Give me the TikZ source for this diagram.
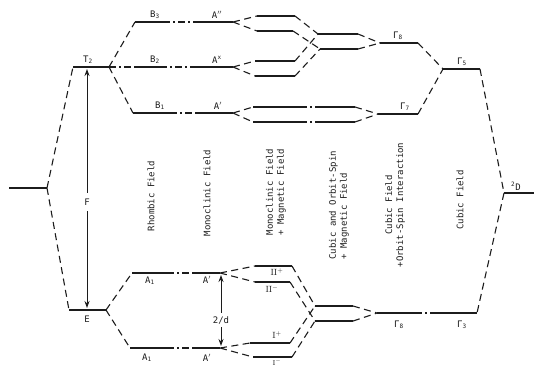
\documentclass[tikz,border=0pt]{standalone}
\usepackage{fontspec}
\usepackage{tikz}
\usetikzlibrary{arrows.meta}
\newfontfamily\lblfont{DejaVu Sans Mono}
\definecolor{ink}{HTML}{1C1C1C}
\tikzset{fig/.style={line join=round,>={Stealth[length=7pt,width=5pt]}},
  lvl/.style={ink,line width=1.4pt},
  conn/.style={ink,line width=1.1pt,dash pattern=on 7pt off 4.5pt},
  gapline/.style={ink,line width=1.2pt,dash pattern=on 7pt off 3pt on 2pt off 3pt},
  tag/.style={ink,inner sep=1pt,font=\lblfont\fontsize{9}{10}\selectfont},
  col/.style={ink,rotate=90,align=center,font=\lblfont\fontsize{9}{11}\selectfont}}

\begin{document}
\begin{tikzpicture}[fig,x=1pt,y=-1pt]
  \useasboundingbox(0,0)rectangle(534,366);\clip(0,0)rectangle(534,366);
  \coordinate(Dl)at(9,188);\coordinate(Dr)at(47,188);
  \coordinate(T2l)at(73,67);\coordinate(T2r)at(109,67);\coordinate(El)at(69,310);\coordinate(Er)at(106,310);
  \coordinate(B3l)at(135,22);\coordinate(B3r)at(163,22);\coordinate(A2l)at(196,22);\coordinate(A2r)at(233,22);
  \coordinate(B2l)at(135,67);\coordinate(B2r)at(160,67);\coordinate(Axl)at(196,67);\coordinate(Axr)at(233,67);
  \coordinate(B1l)at(133,113);\coordinate(B1r)at(170,113);\coordinate(A1l)at(196,113);\coordinate(A1r)at(233,113);
  \coordinate(P1l)at(257,16);\coordinate(P1r)at(295,16);\coordinate(P2l)at(257,31);\coordinate(P2r)at(293,31);
  \coordinate(P3l)at(255,61);\coordinate(P3r)at(295,61);\coordinate(P4l)at(255,76);\coordinate(P4r)at(295,76);
  \coordinate(Q1l)at(318,34);\coordinate(Q1r)at(358,34);\coordinate(Q2l)at(320,49);\coordinate(Q2r)at(358,49);
  \coordinate(R1l)at(253,107);\coordinate(R1m)at(300,107);\coordinate(R1n)at(318,107);\coordinate(R1r)at(355,107);
  \coordinate(R2l)at(253,122);\coordinate(R2m)at(300,122);\coordinate(R2n)at(318,122);\coordinate(R2r)at(355,122);
  \coordinate(G8l)at(380,43);\coordinate(G8r)at(418,43);\coordinate(G7l)at(378,114);\coordinate(G7r)at(418,114);
  \coordinate(G5l)at(443,69);\coordinate(G5r)at(480,69);\coordinate(DDl)at(504,193);\coordinate(DDr)at(534,193);
  \coordinate(G3l)at(437,313);\coordinate(G3r)at(477,313);\coordinate(H8l)at(377,313);\coordinate(H8r)at(415,313);
  \coordinate(U1l)at(132,273);\coordinate(U1r)at(167,273);\coordinate(Upl)at(193,273);\coordinate(Upr)at(220,273);
  \coordinate(L1l)at(130,348);\coordinate(L1r)at(167,348);\coordinate(Lpl)at(193,348);\coordinate(Lpr)at(220,348);
  \coordinate(V1l)at(255,266);\coordinate(V1r)at(292,266);\coordinate(V2l)at(255,282);\coordinate(V2r)at(290,282);
  \coordinate(W1l)at(250,343);\coordinate(W1r)at(290,343);\coordinate(W2l)at(253,357);\coordinate(W2r)at(292,357);
  \coordinate(X1l)at(315,306);\coordinate(X1r)at(353,306);\coordinate(X2l)at(315,321);\coordinate(X2r)at(353,321);
  \draw[lvl](Dl)--(Dr)(T2l)--(T2r)(El)--(Er)(B3l)--(B3r)(A2l)--(A2r)(B2l)--(B2r)(Axl)--(Axr)(B1l)--(B1r)(A1l)--(A1r);
  \draw[lvl](P1l)--(P1r)(P2l)--(P2r)(P3l)--(P3r)(P4l)--(P4r)(Q1l)--(Q1r)(Q2l)--(Q2r);
  \draw[lvl](R1l)--(R1m)(R1n)--(R1r)(R2l)--(R2m)(R2n)--(R2r)(G8l)--(G8r)(G7l)--(G7r)(G5l)--(G5r)(DDl)--(DDr);
  \draw[lvl](G3l)--(G3r)(H8l)--(H8r)(U1l)--(U1r)(Upl)--(Upr)(L1l)--(L1r)(Lpl)--(Lpr);
  \draw[lvl](V1l)--(V1r)(V2l)--(V2r)(W1l)--(W1r)(W2l)--(W2r)(X1l)--(X1r)(X2l)--(X2r);
  \draw[gapline](T2r)--(B2l)(B3r)--(A2l)(B2r)--(Axl)(B1r)--(A1l)(R1m)--(R1n)(R2m)--(R2n)(U1r)--(Upl)(L1r)--(Lpl)(H8r)--(G3l);
  \draw[conn](Dr)--(T2l)(Dr)--(El)(T2r)--(B3l)(T2r)--(B1l)(Er)--(U1l)(Er)--(L1l);
  \draw[conn](A2r)--(P1l)(A2r)--(P2l)(Axr)--(P3l)(Axr)--(P4l)(A1r)--(R1l)(A1r)--(R2l);
  \draw[conn](P1r)--(Q1l)(P2r)--(Q2l)(P3r)--(Q1l)(P4r)--(Q2l)(Q1r)--(G8l)(Q2r)--(G8l)(R1r)--(G7l)(R2r)--(G7l);
  \draw[conn](G8r)--(G5l)(G7r)--(G5l)(G5r)--(DDl)(DDl)--(G3r);
  \draw[conn](Upr)--(V1l)(Upr)--(V2l)(Lpr)--(W1l)(Lpr)--(W2l)(V1r)--(X1l)(V2r)--(X2l)(W1r)--(X1l)(W2r)--(X2l);
  \draw[conn](X1r)--(H8l)(X2r)--(H8l);
  \coordinate(Ft)at(87,69);\coordinate(Fb)at(87,308);\coordinate(Dt)at(221,275);\coordinate(Db)at(221,346);
  \draw[ink,line width=0.9pt,<->](Fb)--(Ft);\draw[ink,line width=0.9pt,<->](Db)--(Dt);
  \node[tag,fill=white,inner ysep=6pt](lF)at(87,202){F};
  \node[tag,fill=white,inner ysep=3pt](lD)at(221,320){2/d};
  \node[tag](lT2)at(88,60){T\textsubscript{2}};\node[tag](lE)at(87,319){E};
  \node[tag](lB3)at(155,15){B\textsubscript{3}};\node[tag](lA2)at(217,15){A$^{\prime\prime}$};
  \node[tag](lB2)at(155,60){B\textsubscript{2}};\node[tag](lAx)at(217,60){A\textsuperscript{x}};
  \node[tag](lB1)at(160,106){B\textsubscript{1}};\node[tag](lA1)at(218,106){A$^{\prime}$};
  \node[tag](lG8)at(398,36){Γ\textsubscript{8}};\node[tag](lG7)at(405,107){Γ\textsubscript{7}};
  \node[tag](lG5)at(462,62){Γ\textsubscript{5}};\node[tag](lDD)at(516,186){\textsuperscript{2}D};
  \node[tag](lG8b)at(399,325){Γ\textsubscript{8}};\node[tag](lG3)at(462,325){Γ\textsubscript{3}};
  \node[tag](lU1)at(150,281){A\textsubscript{1}};\node[tag](lUp)at(207,280){A$^{\prime}$};
  \node[tag](lL1)at(147,358){A\textsubscript{1}};\node[tag](lLp)at(207,358){A$^{\prime}$};
  \node[tag](lV1)at(277,272){$\mathrm{II}^{+}$};\node[tag](lV2)at(272,289){$\mathrm{II}^{-}$};
  \node[tag](lW1)at(277,335){$\mathrm{I}^{+}$};
  \node[tag,inner sep=0pt,font=\fontsize{7}{7}\selectfont](lW2)at(277,362.5){$\mathrm{I}^{-}$};
  \node[col](rhomb)at(151,196){Rhombic Field};
  \node[col](mono)at(207,193){Monoclinic Field};
  \node[col](monomag)at(276,192){Monoclinic Field\\+ Magnetic Field};
  \node[col,align=left,anchor=west](cubmag)at(339,263){Cubic and Orbit-Spin\\+ Magnetic Field};
  \node[col](cubso)at(395,205){Cubic Field\\+Orbit-Spin Interaction};
  \node[col](cub)at(460,200){Cubic Field};
\end{tikzpicture}
\end{document}
